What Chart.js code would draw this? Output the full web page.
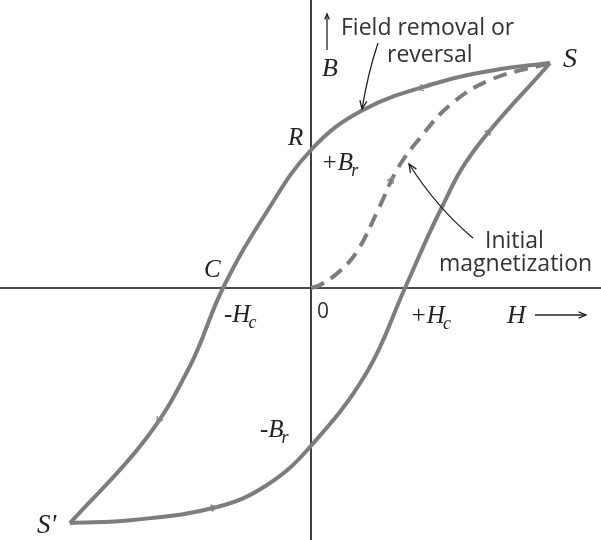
<!DOCTYPE html>
<html>
<head>
<meta charset="utf-8">
<script src="https://cdn.jsdelivr.net/npm/chart.js@4.4.1/dist/chart.umd.min.js"></script>
<style>
  html, body { margin: 0; padding: 0; background: #fff; }
  #wrap { width: 601px; height: 540px; }
</style>
</head>
<body>
<div id="wrap"><canvas id="loop"></canvas></div>
<script>
// hysteresis loop, H and B in arbitrary units

// descending branch S -> R -> C -> S'
const downH = [23.9, 18.4, 12.9, 5.2, 0, -4.5, -8.8, -12.1, -16.6, -24.1];
const downB = [22.5, 21.8, 20.6, 17.8, 13.8, 7.5, 0, -7.8, -15.2, -23.5];

// ascending branch S' -> S
const upH = [-24.1, -17.8, -9.4, -4.4, -0.1, 5.6, 9.4, 12.9, 16.2, 23.9];
const upB = [-23.5, -23.2, -21.9, -19.7, -15.9, -8.4, 0, 7.7, 13.6, 22.5];

// initial magnetization from the origin
const initH = [0, 0.9, 2.9, 4.7, 6.7, 8.7, 10.9, 13.9, 17.9, 23.9];
const initB = [0, 0.3, 1.7, 3.8, 7.8, 12.0, 15.0, 18.3, 20.8, 22.5];

// small direction marks along the curves: [H, B, screen angle in degrees]
const flowMarks = [
  [10.6, 19.9, 165],
  [-15.4, -13.5, 122],
  [-9.4, -21.9, -12],
  [18.0, 15.9, -50],
  [8.2, 11.1, -62]
];

const serif = 'italic {s}px "Liberation Serif", "DejaVu Serif", serif';
const sans = '{s}px "Open Sans", "Noto Sans", sans-serif';

// [text, subscript, H, B, font, size]
const labels = [
  ['Field removal or', '', 3.0, 25.3, sans, 23],
  ['reversal', '', 7.6, 22.6, sans, 23],
  ['B', '', 1.1, 21.2, serif, 26],
  ['S', '', 25.2, 22.1, serif, 28],
  ['R', '', -2.3, 14.3, serif, 25],
  ['+B', 'r', 1.0, 11.8, serif, 25],
  ['C', '', -10.7, 1.1, serif, 25],
  ['-H', 'c', -8.7, -3.4, serif, 25],
  ['0', '', 0.6, -3.0, sans, 21],
  ['+H', 'c', 9.9, -3.5, serif, 25],
  ['H', '', 19.6, -3.5, serif, 26],
  ['Initial', '', 17.4, 4.0, sans, 23],
  ['magnetization', '', 12.8, 1.7, sans, 23],
  ['-B', 'r', -5.1, -14.9, serif, 25],
  ["S'", '', -27.4, -24.5, serif, 27]
];

// pointer arrows: [fromH, fromB, ctrlH, ctrlB, toH, toB, headSize]
const pointers = [
  [1.6, 23.8, 1.6, 25.6, 1.6, 27.4, 6],
  [6.7, 24.5, 5.7, 21.5, 5.1, 17.9, 9],
  [16.2, 5.0, 12.6, 8.0, 9.8, 12.4, 9],
  [22.4, -2.7, 25.0, -2.7, 27.5, -2.7, 8]
];

const toXY = (hs, bs) => hs.map((h, i) => ({ x: h, y: bs[i] }));

const curveColor = '#7d7d7d';

const drawingPlugin = {
  id: 'loopDecor',
  beforeDatasetsDraw(chart) {
    const { ctx, chartArea, scales: { x, y } } = chart;
    ctx.save();
    ctx.strokeStyle = '#111';
    ctx.lineWidth = 1.6;
    ctx.beginPath();
    ctx.moveTo(chartArea.left, y.getPixelForValue(0));
    ctx.lineTo(chartArea.right, y.getPixelForValue(0));
    ctx.moveTo(x.getPixelForValue(0), chartArea.top);
    ctx.lineTo(x.getPixelForValue(0), chartArea.bottom);
    ctx.stroke();
    ctx.restore();
  },
  afterDatasetsDraw(chart) {
    const { ctx, scales: { x, y } } = chart;
    ctx.save();

    // flow marks
    ctx.strokeStyle = '#8a8a8a';
    ctx.lineWidth = 1.4;
    flowMarks.forEach(([h, b, ang]) => {
      const px = x.getPixelForValue(h), py = y.getPixelForValue(b);
      const a = ang * Math.PI / 180;
      ctx.beginPath();
      ctx.moveTo(px - 7 * Math.cos(a - 0.5), py - 7 * Math.sin(a - 0.5));
      ctx.lineTo(px, py);
      ctx.lineTo(px - 7 * Math.cos(a + 0.5), py - 7 * Math.sin(a + 0.5));
      ctx.stroke();
    });

    // pointer arrows
    ctx.strokeStyle = '#222';
    ctx.lineWidth = 1.3;
    pointers.forEach(([h0, b0, hc, bc, h1, b1, head]) => {
      const x0 = x.getPixelForValue(h0), y0 = y.getPixelForValue(b0);
      const xc = x.getPixelForValue(hc), yc = y.getPixelForValue(bc);
      const x1 = x.getPixelForValue(h1), y1 = y.getPixelForValue(b1);
      ctx.beginPath();
      ctx.moveTo(x0, y0);
      ctx.quadraticCurveTo(xc, yc, x1, y1);
      ctx.stroke();
      const a = Math.atan2(y1 - yc, x1 - xc);
      ctx.beginPath();
      ctx.moveTo(x1 - head * Math.cos(a - 0.4), y1 - head * Math.sin(a - 0.4));
      ctx.lineTo(x1, y1);
      ctx.lineTo(x1 - head * Math.cos(a + 0.4), y1 - head * Math.sin(a + 0.4));
      ctx.stroke();
    });

    // labels
    ctx.textBaseline = 'alphabetic';
    ctx.textAlign = 'left';
    labels.forEach(([text, sub, h, b, font, size]) => {
      const px = x.getPixelForValue(h), py = y.getPixelForValue(b);
      ctx.fillStyle = font === sans ? '#333' : '#222';
      ctx.font = font.replace('{s}', size);
      ctx.fillText(text, px, py);
      if (sub) {
        const w = ctx.measureText(text).width;
        ctx.font = font.replace('{s}', Math.round(size * 0.72));
        ctx.fillText(sub, px + w - 2, py + 6);
      }
    });
    ctx.restore();
  }
};

const branch = (label, data, extra) => Object.assign({
  label,
  data,
  showLine: true,
  borderColor: curveColor,
  borderWidth: 4,
  pointRadius: 0,
  tension: 0.4
}, extra);

new Chart(document.getElementById('loop'), {
  type: 'scatter',
  data: {
    datasets: [
      branch('Field removal or reversal', toXY(downH, downB)),
      branch('Field increase', toXY(upH, upB)),
      branch('Initial magnetization', toXY(initH, initB), { borderDash: [14, 8] })
    ]
  },
  options: {
    responsive: true,
    maintainAspectRatio: false,
    animation: false,
    layout: { padding: 0 },
    plugins: {
      legend: { display: false },
      tooltip: { enabled: false }
    },
    scales: {
      x: { type: 'linear', display: false, min: -31.1, max: 29.0 },
      y: { type: 'linear', display: false, min: -25.2, max: 28.8 }
    }
  },
  plugins: [drawingPlugin]
});
</script>
</body>
</html>
